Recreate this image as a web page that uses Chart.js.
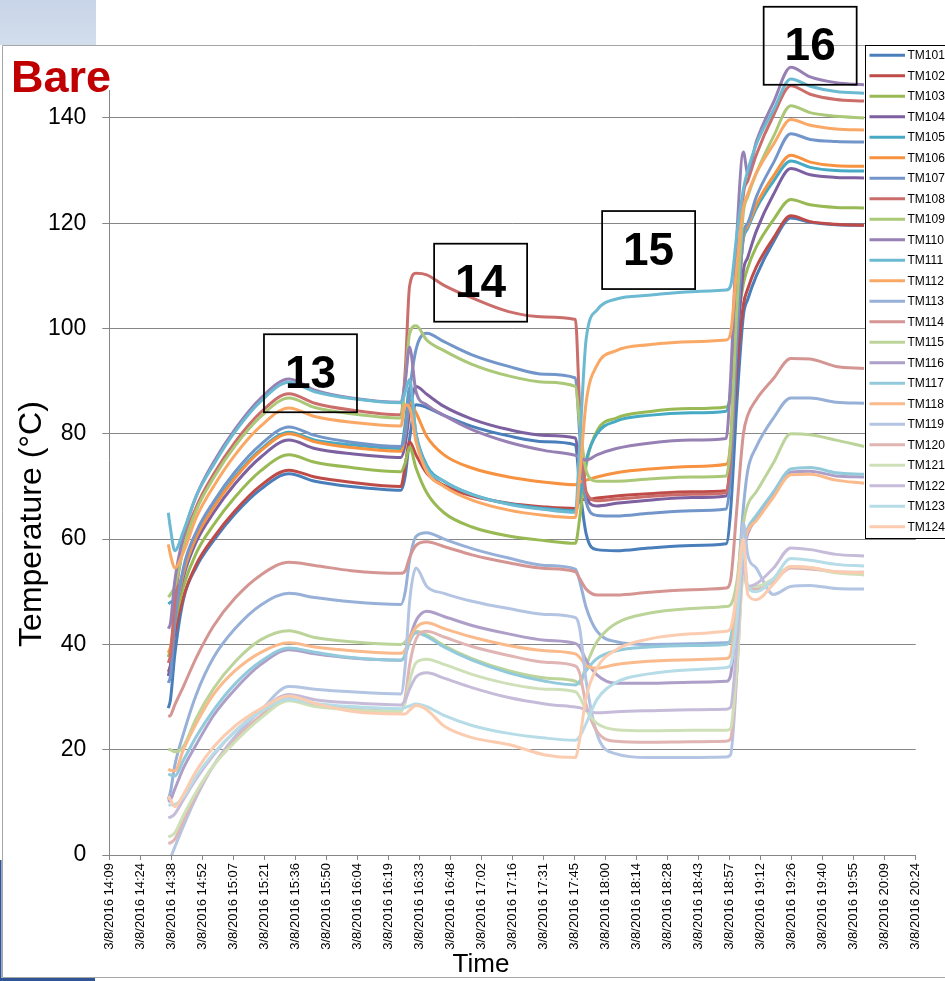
<!DOCTYPE html>
<html><head><meta charset="utf-8">
<script src="https://cdn.jsdelivr.net/npm/chart.js@4.4.1/dist/chart.umd.min.js"></script>
<style>html,body{margin:0;padding:0;background:#fff;}canvas{display:block;}</style>
</head><body>
<canvas id="c" width="945" height="981"></canvas>
<script>
// ---- DATA ----
const times = ["14:37","14:38","14:40","14:44","14:50","14:58","15:08","15:20","15:33","15:45","16:02","16:25",
"16:27","16:29","16:32","16:37","16:45","16:58","17:15","17:32","17:46",
"17:48","17:51","17:56","18:05","18:20","18:40","18:56",
"18:58","19:01","19:04","19:06","19:10","19:18","19:26","19:35","19:47","20:00"];

const seriesNames = ["TM101","TM102","TM103","TM104","TM105","TM106","TM107","TM108","TM109","TM110","TM111","TM112",
"TM113","TM114","TM115","TM116","TM117","TM118","TM119","TM120","TM121","TM122","TM123","TM124"];

const TM101 = [27.9,29.5,38,48.5,54.7,59.7,64.8,69.5,72.4,71.0,70.0,69.3, 72,79,85.5,85.0,83.5,81.4,79.6,78.5,77.9, 70,61.0,58.0,57.8,58.3,58.8,59.1, 65,86,102.5,105.5,110.0,116.5,121.0,120.2,119.7,119.6];
const TM102 = [34.8,36,42,49,55.2,60.3,65.4,70.2,73.1,71.8,70.8,70.0, 74,78.5,76,72.5,70.2,68.2,66.8,66.1,65.8, 67.5,67.5,67.8,68.2,68.6,69.0,69.2, 74,92,104.5,107.5,111.7,117.2,121.4,120.3,119.8,119.6];
const TM103 = [37.6,39,44,51,57.4,62.7,68.0,73.0,76.0,74.6,73.6,72.8, 74.5,77.5,73.5,68.8,65.0,62.3,60.6,59.7,59.2, 64,74,80.5,83.0,84.2,84.8,85.1, 87,100,108.5,111.5,115.5,120.7,124.5,123.5,123.0,122.9];
const TM104 = [34.0,36,45,52.8,59.5,65.0,70.5,75.6,78.8,77.2,76.2,75.5, 78,84,89.0,87.5,85.2,82.8,80.8,79.7,79.2, 74,68.0,66.3,66.8,67.4,67.9,68.2, 74,96,111.0,113.5,118.5,125.5,130.4,129.2,128.7,128.6];
const TM105 = [47.7,48,48.5,53.8,60.6,66.2,71.9,77.1,80.3,78.8,77.9,77.2, 82,88.7,80,74,71,68.5,66.7,65.8,65.4, 68,75,80.0,82.4,83.5,84.0,84.3, 88,104,117.0,119.0,122.8,128.0,131.8,130.6,130.0,129.9];
const TM106 = [38.4,39.5,45,53.6,60.4,66.0,71.6,76.8,80.0,78.5,77.4,76.7, 80,86.0,84,79.5,76.0,73.5,71.8,70.8,70.3, 70.8,71.2,71.8,72.6,73.3,73.8,74.2, 78,100,117.5,119.5,123.5,129.0,132.9,131.6,130.9,130.8];
const TM107 = [32.7,34,44,54.5,61.4,67.1,72.8,78.0,81.3,79.7,78.4,77.6, 80,88,96,99.1,97.5,95.0,92.8,91.3,90.6, 80,67.0,64.5,64.4,64.9,65.4,65.7, 72,98,118.0,120.0,125.0,131.5,137.0,135.9,135.5,135.4];
const TM108 = [36.5,38,48,58.7,66.1,72.3,78.4,84.1,87.6,85.8,84.5,83.6, 92,108,110.5,110.2,108.2,105.8,103.2,102.2,101.7, 85,69,67.3,67.6,68.1,68.5,68.8, 76,106,125.5,128.0,133.0,140.5,146.1,144.5,143.5,143.2];
const TM109 = [49.0,49.5,51,58.2,65.5,71.6,77.7,83.3,86.8,85.0,83.8,83.0, 90,99,100.5,97.8,95.8,93.2,91.0,89.8,89.0, 82,73,71.0,71.0,71.4,71.8,72.0, 78,104,122.0,125.0,129.5,136.5,142.3,141.0,140.3,140.0];
const TM110 = [43.0,44,52,60.6,68.2,74.6,80.9,86.8,90.4,88.3,86.8,86.0, 90,96.5,88,85.5,83.5,80.8,78.4,76.8,75.9, 75.5,75.0,76.0,77.2,78.2,78.8,79.1, 90,118,133.5,129.5,135.5,143.0,149.6,147.8,146.7,146.3];
const TM111 = [65.0,62,57.8,61.5,68.2,74.1,80.4,86.2,89.8,88.0,86.7,85.9, 88,90.3,80,73.5,71,68.5,66.6,65.6,65.1, 78,98,103.5,105.6,106.3,107.0,107.3, 108,118,126.5,130.0,135.0,141.5,147.4,146.0,145.0,144.7];
const TM112 = [59.0,57,54.5,57.5,64.1,70.0,76.0,81.5,84.9,83.3,82.2,81.5, 85.5,85,78.5,72.8,70,67.4,65.5,64.5,64.1, 72,86,93.0,95.8,96.9,97.5,97.8, 99,112,123.0,125.5,129.5,135.0,139.7,138.6,137.9,137.7];
const TM113 = [10.5,12,17,23,30.5,37.5,43.0,47.5,49.7,48.9,48.1,47.6, 50,56,60.5,61.2,60.0,58.2,56.4,55.0,54.3, 52,47,42.5,40.5,40.0,40.1,40.3, 40.5,50,66,73,77.5,83.0,86.8,86.8,86.0,85.8];
const TM114 = [26.3,26.5,28.5,32.0,37.5,43.5,48.8,53.2,55.6,55.0,54.0,53.5, 54,56.5,58.8,59.5,58.6,57.0,55.5,54.4,53.8, 52.5,50.5,49.4,49.4,49.9,50.4,50.7, 52,66,80,83.5,86.5,90.5,94.3,94.2,92.8,92.4];
const TM115 = [20.1,20.0,19.6,20.6,26.0,31.6,36.7,40.9,42.6,41.3,40.5,40.0, 40.5,41.5,42.5,41.8,39.8,37.3,35.0,33.6,33.0, 32.5,36,40.5,44.0,45.9,46.8,47.2, 47.5,52,63,66.5,69,74.5,80.0,79.8,78.8,77.6];
const TM116 = [10.1,10.5,12.5,16.5,21,26.5,31.5,36.2,39.0,38.2,37.4,37.0, 38,41,44.5,46.3,45.3,43.6,42.0,40.8,40.2, 39.5,37,34.2,32.6,32.6,32.8,33.0, 34,46,57,61,63.8,68.4,72.7,72.9,72.0,71.8];
const TM117 = [15.4,15.2,15,18,22.5,27.5,32.5,36.8,39.3,38.5,37.5,37.0, 38,40.5,42.2,41.5,39.5,37.0,34.6,33.0,32.3, 33,35,37.3,38.8,39.5,39.8,40.0, 41,50,59,62,64.5,69.0,73.3,73.6,72.6,72.3];
const TM118 = [16.3,16.1,16,20,25,30.5,35,38.5,40.3,39.5,38.8,38.3, 39,41,43.2,44.1,43.0,41.4,39.8,38.8,38.2, 37.5,36.0,35.5,36.2,36.8,37.1,37.3, 38,48,58,61.5,63.5,68.0,72.2,72.3,71.2,70.6];
const TM119 = [-1.0,-0.5,1.5,5.5,11,17,22.5,27.5,32.0,31.5,31.0,30.6, 36,48,54.5,51,49.7,48.2,46.8,45.7,45.1, 43,33,23.0,19.2,18.5,18.5,18.6, 19,35,63,57,54.5,49.5,51.0,51.2,50.6,50.5];
const TM120 = [2.2,2.3,3.0,6.5,11.5,17,22,26.5,29.8,28.5,27.8,27.3, 30,36,41.0,42.5,41.4,39.6,37.9,36.6,35.9, 34.5,28.5,23.5,21.6,21.4,21.5,21.6, 22,35,54,50.5,50.5,52.0,54.5,54.3,53.8,53.7];
const TM121 = [3.5,3.6,4.2,7.5,12,17,21.5,26,29.3,28.2,27.6,27.3, 29,33,36.5,37.2,36.2,34.3,32.5,31.5,31.0, 30,27.5,25.0,23.8,23.6,23.7,23.7, 24,36,53,51,51.0,52.5,54.8,54.6,53.6,53.2];
const TM122 = [7.1,7.2,7.8,10.5,14.5,19,23.5,27.5,30.5,29.5,28.9,28.5, 29.5,31.5,33.8,34.6,33.6,31.8,29.9,28.7,28.1, 28,27.5,27.0,27.2,27.4,27.6,27.7, 28,40,55,51,51.5,54.5,58.3,58.0,57.1,56.8];
const TM123 = [9.5,9.5,9.6,11,15,19.3,23.5,27.2,29.6,28.8,28.2,27.8, 28,28.3,28.7,28.2,26.5,24.6,23.1,22.2,21.8, 22.5,25,29.5,32.8,34.4,35.2,35.6, 36,45,58,51,50.0,52.5,56.3,56.0,55.2,54.9];
const TM124 = [11.2,10.5,9.2,11.5,16,20.5,24.5,27.8,30.2,28.8,27.3,26.8, 26.8,27.5,28.4,27.6,24.5,22.3,21.0,19.0,18.5, 22,30,35.5,39.0,41.0,42.0,42.5, 43,50,60,49.5,48.5,51.5,54.8,54.6,53.8,53.6];

const seriesValues = [TM101,TM102,TM103,TM104,TM105,TM106,TM107,TM108,TM109,TM110,TM111,TM112,
TM113,TM114,TM115,TM116,TM117,TM118,TM119,TM120,TM121,TM122,TM123,TM124];

const yTicks = [0,20,40,60,80,100,120,140];
const xTickLabels = ["3/8/2016 14:09","3/8/2016 14:24","3/8/2016 14:38","3/8/2016 14:52","3/8/2016 15:07","3/8/2016 15:21",
"3/8/2016 15:36","3/8/2016 15:50","3/8/2016 16:04","3/8/2016 16:19","3/8/2016 16:33","3/8/2016 16:48","3/8/2016 17:02",
"3/8/2016 17:16","3/8/2016 17:31","3/8/2016 17:45","3/8/2016 18:00","3/8/2016 18:14","3/8/2016 18:28","3/8/2016 18:43",
"3/8/2016 18:57","3/8/2016 19:12","3/8/2016 19:26","3/8/2016 19:40","3/8/2016 19:55","3/8/2016 20:09","3/8/2016 20:24"];

const annoLabels = ["13","14","15","16"];
const annoTimes = ["15:43","17:02","18:20","19:35"];
const annoValues = [91.5,108.7,114.9,153.7];

// ---- STYLE ----
const colors = ["#4A7EBB","#BE4B48","#98B954","#7D60A0","#46AAC5","#F69240",
"#7396CA","#CB6E6B","#ABC878","#9680B4","#6BBAD2","#F9A866",
"#97B0D8","#D49593","#BCD49A","#AE9FC8","#92CADC","#FABA8C",
"#B3C5E3","#E0B5B4","#CFE0B8","#C6BCD9","#B6DCE7","#FBCCB0"];
const FONT = "'Liberation Sans', Arial, sans-serif";
const AXIS_GRAY = "#868686";

function toMin(s){ const p = s.split(':'); return (+p[0])*60 + (+p[1]); }
const xStart = 0.59*1440, xStep = 0.01*1440;   // Excel day-fraction axis in minutes
const xEnd = xStart + (xTickLabels.length-1)*xStep;

const datasets = seriesNames.map((n,i)=>({
  label:n,
  data: times.map((t,j)=>({x:toMin(t), y:seriesValues[i][j]})),
  borderColor: colors[i], backgroundColor: colors[i],
  borderWidth: 3, pointRadius: 0, pointHoverRadius:0, fill:false,
  cubicInterpolationMode:'monotone',
  order: seriesNames.length-1-i
}));

const decor = {
  id:'decor',
  beforeDraw(chart){
    const c = chart.ctx;
    c.save();
    c.fillStyle='#fff'; c.fillRect(0,0,chart.width,chart.height);
    const g = c.createLinearGradient(0,0,0,45);
    g.addColorStop(0,'#C8D5E8'); g.addColorStop(1,'#D3DEEC');
    c.fillStyle=g; c.fillRect(0,0,96,45);
    c.fillStyle='#2F5597'; c.fillRect(0,860,1.5,121); c.fillRect(0,978,95,3);
    c.strokeStyle='#A6A6A6'; c.lineWidth=1;
    c.beginPath(); c.moveTo(2.5,977.5); c.lineTo(2.5,45.5); c.lineTo(945,45.5);
    c.moveTo(2.5,977.5); c.lineTo(945,977.5); c.stroke();
    c.restore();
  },
  afterDraw(chart){
    const c = chart.ctx, xs = chart.scales.x, ys = chart.scales.y;
    c.save();
    c.fillStyle='#fff'; c.fillRect(5,50,115,40);
    c.fillStyle='#C00000'; c.font="bold 45px "+FONT; c.textAlign='left'; c.textBaseline='alphabetic';
    c.fillText("Bare",11,92);
    c.fillStyle='#000'; c.font="26px "+FONT; c.textAlign='center';
    c.fillText("Time",481,972);
    c.save(); c.translate(41,524); c.rotate(-Math.PI/2);
    c.font="32px "+FONT; c.fillText("Temperature (°C)",0,0); c.restore();
    c.lineWidth=1.75; c.strokeStyle='#000';
    annoLabels.forEach((lab,i)=>{
      const cx = xs.getPixelForValue(toMin(annoTimes[i]));
      const cy = ys.getPixelForValue(annoValues[i]);
      c.strokeRect(cx-46.5, cy-39, 93, 78);
      c.font="bold 46px "+FONT; c.textAlign='center'; c.textBaseline='middle';
      c.fillStyle='#000'; c.fillText(lab, cx, cy+2);
    });
    const lx=865.5, ly=45.5, lh=493;
    c.fillStyle='#fff'; c.fillRect(lx,ly,90,lh);
    c.strokeStyle='#000'; c.lineWidth=1; c.strokeRect(lx,ly,90,lh);
    c.font="12px "+FONT; c.textAlign='left'; c.textBaseline='middle';
    chart.data.datasets.forEach((ds,i)=>{
      const y = 55.2 + 20.5*i;
      c.strokeStyle=ds.borderColor; c.lineWidth=3;
      c.beginPath(); c.moveTo(869.5,y); c.lineTo(905,y); c.stroke();
      c.fillStyle='#000'; c.fillText(ds.label, 907.5, y+0.5);
    });
    c.restore();
  }
};

new Chart(document.getElementById('c').getContext('2d'), {
  type:'line',
  data:{datasets},
  options:{
    responsive:false, animation:false, devicePixelRatio:1,
    layout:{padding:{left:0, top:65.25, right:29.3, bottom:0}},
    plugins:{legend:{display:false}, tooltip:{enabled:false}},
    scales:{
      x:{type:'linear', min:xStart, max:xEnd,
        afterBuildTicks:s=>{ s.ticks = xTickLabels.map((l,i)=>({value:xStart+i*xStep})); },
        afterFit:s=>{ s.height=126; s.paddingLeft=0; s.paddingRight=0; },
        ticks:{autoSkip:false, maxRotation:90, minRotation:90, padding:3, color:'#000',
          font:{family:FONT, size:13}, callback:(v,i)=>xTickLabels[i]},
        grid:{display:true, drawOnChartArea:false, drawTicks:true, tickLength:5, color:AXIS_GRAY},
        border:{display:true, color:AXIS_GRAY, width:1}
      },
      y:{type:'linear', min:0, max:150,
        afterBuildTicks:s=>{ s.ticks = yTicks.map(v=>({value:v})); },
        afterFit:s=>{ s.width=109.3; s.paddingTop=0; s.paddingBottom=0; },
        ticks:{padding:16, color:'#000', font:{family:FONT, size:23}, callback:v=>String(v)},
        grid:{color:AXIS_GRAY, tickLength:7, lineWidth:1},
        border:{display:true, color:AXIS_GRAY, width:1}
      }
    }
  },
  plugins:[decor]
});
</script>
</body></html>
